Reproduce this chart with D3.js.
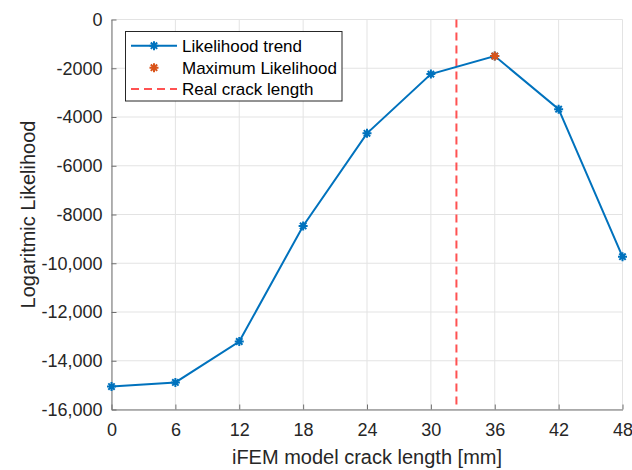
<!DOCTYPE html>
<html>
<head>
<meta charset="utf-8">
<script src="https://cdn.jsdelivr.net/npm/d3@7"></script>
<style>
  html, body { margin: 0; padding: 0; background: #fff; }
  svg { display: block; font-family: "Liberation Sans", Arial, sans-serif; }
</style>
</head>
<body>
<svg id="chart" width="632" height="470"></svg>
<script>
// Crack lengths of the iFEM models [mm]
const crackLengths = [0, 6, 12, 18, 24, 30, 36, 42, 48];
// Logarithmic likelihood for each model
const logLikelihood = [-15060, -14890, -13210, -8470, -4670, -2240, -1500, -3680, -9730];
// Most likely crack length and its likelihood
const maxPoint = [36, -1500];
// Actual crack length
const realCrack = 32.4;

const xTicks = [0, 6, 12, 18, 24, 30, 36, 42, 48];
const yTicks = [0, -2000, -4000, -6000, -8000, -10000, -12000, -14000, -16000];

const legendLabels = ["Likelihood trend", "Maximum Likelihood", "Real crack length"];

const blue = "#0072BD", orange = "#D95319", red = "#FF5252";

const svg = d3.select("#chart");
const m = { left: 111.5, right: 622.5, top: 19.5, bottom: 409.5 };

const x = d3.scaleLinear().domain([0, 48]).range([m.left, m.right]);
const y = d3.scaleLinear().domain([-16000, 0]).range([m.bottom, m.top]);

// grid
const grid = svg.append("g").attr("stroke", "#e3e3e3").attr("stroke-width", 1);
xTicks.forEach(t => grid.append("line")
  .attr("x1", x(t)).attr("x2", x(t)).attr("y1", m.top).attr("y2", m.bottom));
yTicks.forEach(t => grid.append("line")
  .attr("x1", m.left).attr("x2", m.right).attr("y1", y(t)).attr("y2", y(t)));

const fmtY = v => Math.abs(v) >= 10000 ? d3.format(",")(v).replace("−", "-") : String(v);

// axes
const xAxis = svg.append("g").attr("transform", `translate(0,${m.bottom})`)
  .call(d3.axisBottom(x).tickValues(xTicks).tickSizeInner(-5).tickSizeOuter(0).tickPadding(12));
const yAxis = svg.append("g").attr("transform", `translate(${m.left},0)`)
  .call(d3.axisLeft(y).tickValues(yTicks).tickSizeInner(-5).tickSizeOuter(0).tickPadding(9).tickFormat(fmtY));

[xAxis, yAxis].forEach(a => {
  a.select(".domain").attr("stroke", "#707070").attr("stroke-width", 1);
  a.selectAll(".tick line").attr("stroke", "#707070");
  a.selectAll(".tick text").attr("fill", "#262626").style("font-size", "18px")
    .style("font-family", "'Liberation Sans', Arial, sans-serif");
});
xAxis.selectAll(".tick text").attr("dy", "0.8em");

// axis titles
svg.append("text").attr("x", (m.left + m.right) / 2).attr("y", 464)
  .attr("text-anchor", "middle").attr("fill", "#262626").style("font-size", "20px")
  .text("iFEM model crack length [mm]");
svg.append("text").attr("transform", `translate(35,${(m.top + m.bottom) / 2}) rotate(-90)`)
  .attr("text-anchor", "middle").attr("fill", "#262626").style("font-size", "20px")
  .text("Logaritmic Likelihood");

// asterisk marker
function asterisk(g, cx, cy, r, color) {
  const d = r * Math.SQRT1_2;
  const p = `M${cx - r},${cy}L${cx + r},${cy}M${cx},${cy - r}L${cx},${cy + r}` +
            `M${cx - d},${cy - d}L${cx + d},${cy + d}M${cx - d},${cy + d}L${cx + d},${cy - d}`;
  g.append("path").attr("d", p).attr("stroke", color).attr("stroke-width", 2)
    .attr("fill", "none").attr("stroke-linecap", "butt");
}

// real crack length
svg.append("line").attr("x1", x(realCrack)).attr("x2", x(realCrack))
  .attr("y1", m.top).attr("y2", m.bottom)
  .attr("stroke", red).attr("stroke-width", 2).attr("stroke-dasharray", "8,5");

// likelihood trend
const pts = crackLengths.map((c, i) => [c, logLikelihood[i]]);
svg.append("path").datum(pts)
  .attr("d", d3.line().x(d => x(d[0])).y(d => y(d[1])))
  .attr("fill", "none").attr("stroke", blue).attr("stroke-width", 2);
const mk = svg.append("g");
pts.forEach(d => asterisk(mk, x(d[0]), y(d[1]), 4.5, blue));
asterisk(mk, x(maxPoint[0]), y(maxPoint[1]), 4.5, orange);

// legend
const lg = svg.append("g");
lg.append("rect").attr("x", 125.5).attr("y", 31.5).attr("width", 216.5).attr("height", 69.5)
  .attr("fill", "#fff").attr("stroke", "#262626").attr("stroke-width", 1);
const rows = [45.7, 67.7, 89];
lg.append("line").attr("x1", 131).attr("x2", 177).attr("y1", rows[0]).attr("y2", rows[0])
  .attr("stroke", blue).attr("stroke-width", 2);
asterisk(lg, 154, rows[0], 4.5, blue);
asterisk(lg, 154, rows[1], 4.5, orange);
lg.append("line").attr("x1", 131).attr("x2", 177).attr("y1", rows[2]).attr("y2", rows[2])
  .attr("stroke", red).attr("stroke-width", 2).attr("stroke-dasharray", "8,5");
legendLabels.forEach((t, i) => lg.append("text").attr("x", 182).attr("y", rows[i])
  .attr("dy", "0.35em").attr("fill", "#000").style("font-size", "17px").text(t));
</script>
</body>
</html>
